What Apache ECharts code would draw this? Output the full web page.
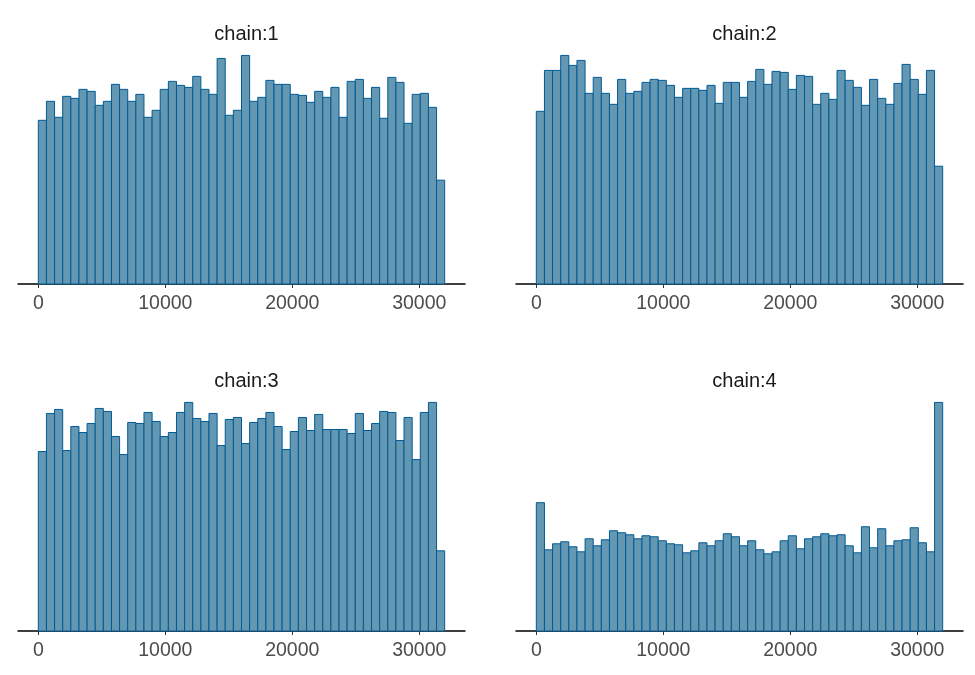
<!DOCTYPE html>
<html>
<head>
<meta charset="utf-8">
<script src="https://cdn.jsdelivr.net/npm/echarts@6/dist/echarts.min.js"></script>
<style>
  html, body { margin: 0; padding: 0; background: #fff; }
  #chart { width: 975px; height: 675px; }
</style>
</head>
<body>
<div id="chart"></div>
<script>
// histogram bins: 50 bins of width 640, starting at 0
const binStart = 0;
const binWidth = 640;
const chainNames = ['chain:1', 'chain:2', 'chain:3', 'chain:4'];
const xTicks = [0, 10000, 20000, 30000];

// counts per bin
const chain1 = [164, 183, 167, 188, 186, 195, 193, 179, 183, 200,
                195, 183, 190, 167, 174, 195, 203, 199, 197, 208,
                195, 190, 226, 169, 174, 229, 183, 187, 204, 200,
                200, 190, 189, 182, 193, 187, 197, 167, 203, 205,
                186, 197, 166, 207, 202, 161, 190, 191, 177, 104];
const chain2 = [173, 214, 214, 229, 219, 224, 191, 207, 191, 180,
                205, 191, 193, 202, 205, 204, 199, 187, 196, 196,
                194, 199, 181, 202, 202, 187, 203, 215, 200, 213,
                212, 195, 209, 208, 180, 191, 185, 214, 204, 197,
                179, 205, 186, 180, 201, 220, 205, 190, 214, 118];
const chain3 = [179, 217, 221, 180, 204, 198, 207, 222, 219, 194,
                176, 208, 207, 218, 209, 194, 198, 218, 228, 212,
                209, 217, 185, 211, 213, 187, 208, 212, 218, 204,
                181, 199, 213, 200, 216, 201, 201, 201, 197, 217,
                200, 207, 219, 218, 190, 213, 171, 218, 228, 80];
const chain4 = [128, 81, 87, 89, 84, 79, 92, 85, 91, 100,
                98, 96, 92, 95, 94, 90, 87, 86, 78, 80,
                88, 85, 90, 97, 94, 85, 90, 81, 77, 79,
                90, 95, 82, 92, 94, 97, 95, 96, 85, 78,
                104, 83, 102, 85, 90, 91, 103, 88, 79, 228];
const chains = [chain1, chain2, chain3, chain4];

const fillColor = '#6497b1';
const edgeColor = '#005b96';
const fontFamily = '"Liberation Sans", Arial, sans-serif';

// panel layout (px)
const panels = [
  { left: 18, top: 44, width: 447, height: 240 },
  { left: 516, top: 44, width: 447, height: 240 },
  { left: 18, top: 391, width: 447, height: 240 },
  { left: 516, top: 391, width: 447, height: 240 }
];

function toBins(counts) {
  return counts.map((c, i) => [binStart + i * binWidth, binStart + (i + 1) * binWidth, c]);
}

function renderBar(params, api) {
  const p0 = api.coord([api.value(0), 0]);
  const p1 = api.coord([api.value(1), api.value(2)]);
  return {
    type: 'rect',
    shape: { x: p0[0], y: p1[1], width: p1[0] - p0[0], height: p0[1] - p1[1] },
    style: { fill: fillColor, stroke: edgeColor, lineWidth: 1 }
  };
}

const option = {
  animation: false,
  backgroundColor: '#fff',
  title: panels.map((p, i) => ({
    text: chainNames[i],
    left: p.left + p.width / 2,
    top: p.top - 25,
    textAlign: 'center',
    textStyle: { fontFamily: fontFamily, fontSize: 20, fontWeight: 'normal', color: '#1a1a1a' }
  })),
  grid: panels.map(p => ({ left: p.left, top: p.top, width: p.width, height: p.height })),
  xAxis: panels.map((p, i) => ({
    type: 'value',
    gridIndex: i,
    min: -1600,
    max: 33600,
    splitLine: { show: false },
    axisLine: { show: true, onZero: false, lineStyle: { color: '#000', width: 1.5 } },
    axisTick: {
      show: true, length: 4, lineStyle: { color: '#333', width: 1 },
      customValues: xTicks
    },
    axisLabel: {
      color: '#4d4d4d', fontSize: 19.5, fontFamily: fontFamily, margin: 10,
      customValues: xTicks,
      formatter: v => String(v)
    }
  })),
  yAxis: panels.map((p, i) => ({
    type: 'value',
    gridIndex: i,
    min: 0,
    max: v => v.max * 1.05,
    show: false,
    splitLine: { show: false }
  })),
  series: chains.map((c, i) => ({
    type: 'custom',
    xAxisIndex: i,
    yAxisIndex: i,
    renderItem: renderBar,
    encode: { x: [0, 1], y: 2 },
    data: toBins(c)
  }))
};

const chart = echarts.init(document.getElementById('chart'));
chart.setOption(option);
</script>
</body>
</html>
